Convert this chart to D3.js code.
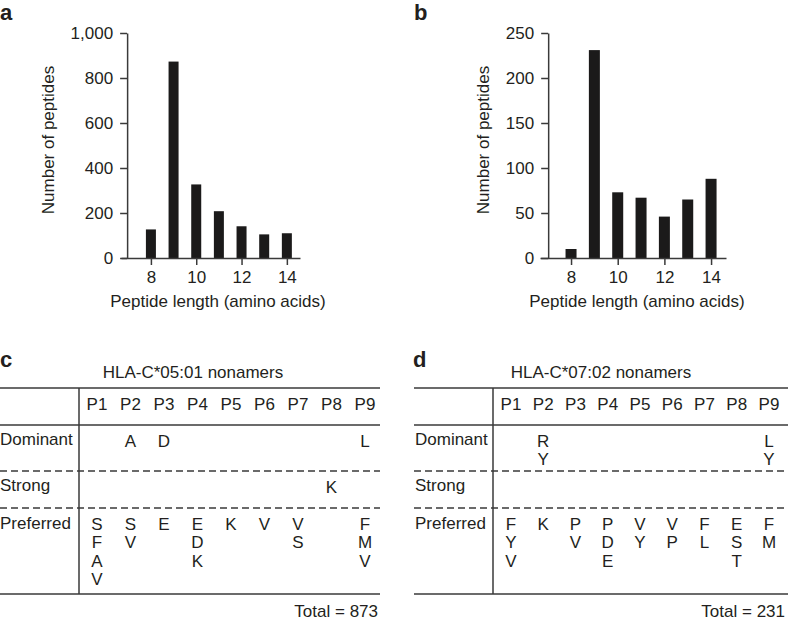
<!DOCTYPE html>
<html>
<head>
<meta charset="utf-8">
<script src="https://cdn.jsdelivr.net/npm/d3@7"></script>
<style>
  html, body { margin: 0; padding: 0; background: #fff; }
  svg text { font-family: "Liberation Sans", Arial, Helvetica, sans-serif; fill: #231f20; }
</style>
</head>
<body>
<svg id="chart" width="788" height="620"></svg>
<script>
// ---- Data ----
const peptideLengths = [8, 9, 10, 11, 12, 13, 14];
const countsA = [127, 873, 327, 208, 141, 105, 110];
const countsB = [10, 231, 73, 67, 46, 65, 88];
const xTickValues = [8, 10, 12, 14];
const yTicksA = [0, 200, 400, 600, 800, 1000];
const yTicksB = [0, 50, 100, 150, 200, 250];

const positions = ["P1", "P2", "P3", "P4", "P5", "P6", "P7", "P8", "P9"];
const rowLabels = ["Dominant", "Strong", "Preferred"];

const dominantC = [[], ["A"], ["D"], [], [], [], [], [], ["L"]];
const strongC = [[], [], [], [], [], [], [], ["K"], []];
const preferredC = [["S", "F", "A", "V"], ["S", "V"], ["E"], ["E", "D", "K"], ["K"], ["V"], ["V", "S"], [], ["F", "M", "V"]];

const dominantD = [[], ["R", "Y"], [], [], [], [], [], [], ["L", "Y"]];
const strongD = [[], [], [], [], [], [], [], [], []];
const preferredD = [["F", "Y", "V"], ["K"], ["P", "V"], ["P", "D", "E"], ["V", "Y"], ["V", "P"], ["F", "L"], ["E", "S", "T"], ["F", "M"]];

const svg = d3.select("#chart");
const INK = "#231f20";
const LINE = "#3a3a3a";
const FS = 17;

// ---- Bar chart helper ----
function barChart(cfg) {
  const g = svg.append("g");
  const x = d3.scaleLinear().domain(cfg.xDomain).range(cfg.xRange);
  const y = d3.scaleLinear().domain(cfg.yDomain).range([258, 33]);
  const axisX = x(cfg.yAxisAt);

  // bars
  g.selectAll("rect.bar").data(cfg.values).enter().append("rect")
    .attr("x", (d, i) => x(peptideLengths[i]) - cfg.barW / 2)
    .attr("width", cfg.barW)
    .attr("y", d => y(d))
    .attr("height", d => y(0) - y(d))
    .attr("fill", "#1b1a1a");

  // x axis
  const xa = g.append("g").attr("transform", `translate(0,${y(0)})`)
    .call(d3.axisBottom(x).tickValues(xTickValues).tickSize(7).tickPadding(6).tickSizeOuter(0));
  // y axis
  const ya = g.append("g").attr("transform", `translate(${axisX},0)`)
    .call(d3.axisLeft(y).tickValues(cfg.yTicks).tickSize(7).tickPadding(7).tickSizeOuter(0)
      .tickFormat(d3.format(",")));
  [xa, ya].forEach(a => {
    a.selectAll("path.domain").attr("stroke", LINE).attr("stroke-width", 1.5);
    a.selectAll(".tick line").attr("stroke", LINE).attr("stroke-width", 1.5);
    a.selectAll(".tick text").attr("font-size", FS).attr("fill", INK)
      .attr("font-family", "Liberation Sans, Arial, sans-serif");
  });

  // axis titles
  g.append("text")
    .attr("transform", `translate(${cfg.yTitleX},140) rotate(-90)`)
    .attr("text-anchor", "middle").attr("font-size", FS)
    .text("Number of peptides");
  g.append("text")
    .attr("x", cfg.xTitleX).attr("y", 307)
    .attr("text-anchor", "middle").attr("font-size", FS)
    .text("Peptide length (amino acids)");
  // panel letter
  g.append("text").attr("x", cfg.letterX).attr("y", 20)
    .attr("font-size", 22).attr("font-weight", "bold").text(cfg.letter);
}

barChart({
  values: countsA, yDomain: [0, 1000], yTicks: yTicksA,
  xDomain: [6.68, 14.58], xRange: [121, 300], yAxisAt: 6.95, barW: 10,
  yTitleX: 54, xTitleX: 218, letter: "a", letterX: 0
});
barChart({
  values: countsB, yDomain: [0, 250], yTicks: yTicksB,
  xDomain: [6.67, 14.64], xRange: [540, 726], yAxisAt: 7.02, barW: 11,
  yTitleX: 489, xTitleX: 637, letter: "b", letterX: 414
});

// ---- Table helper ----
function motifTable(cfg) {
  const g = svg.append("g");
  const px = d3.scalePoint().domain(positions).range(cfg.colRange);
  const yTop = 388, yHead = 425, yDash1 = 471, yDash2 = 508, yBot = 594;

  g.append("text").attr("x", cfg.letterX).attr("y", 367)
    .attr("font-size", 22).attr("font-weight", "bold").text(cfg.letter);
  g.append("text").attr("x", cfg.titleX).attr("y", 378)
    .attr("text-anchor", "middle").attr("font-size", FS).text(cfg.title);

  const solid = [[cfg.x0, yTop, cfg.x1, yTop], [cfg.x0, yHead, cfg.x1, yHead], [cfg.x0, yBot, cfg.x1, yBot],
                 [cfg.vx, yTop, cfg.vx, yBot]];
  g.selectAll("line.solid").data(solid).enter().append("line")
    .attr("x1", d => d[0]).attr("y1", d => d[1]).attr("x2", d => d[2]).attr("y2", d => d[3])
    .attr("stroke", LINE).attr("stroke-width", 1.5);
  g.selectAll("line.dash").data([yDash1, yDash2]).enter().append("line")
    .attr("x1", cfg.x0).attr("x2", cfg.x1).attr("y1", d => d).attr("y2", d => d)
    .attr("stroke", LINE).attr("stroke-width", 1.5).attr("stroke-dasharray", "7,4");

  // header
  g.selectAll("text.head").data(positions).enter().append("text")
    .attr("x", d => px(d)).attr("y", 410).attr("text-anchor", "middle")
    .attr("font-size", FS).text(d => d);

  // row labels
  const rowY = [445, 491, 529];
  g.selectAll("text.row").data(rowLabels).enter().append("text")
    .attr("x", cfg.labelX).attr("y", (d, i) => rowY[i]).attr("font-size", FS).text(d => d);

  // cells
  const valueY = [447, 493, 530];
  const step = 18.3;
  [cfg.dominant, cfg.strong, cfg.preferred].forEach((rows, ri) => {
    rows.forEach((letters, ci) => {
      letters.forEach((L, li) => {
        g.append("text")
          .attr("x", px(positions[ci])).attr("y", valueY[ri] + li * step)
          .attr("text-anchor", "middle").attr("font-size", FS).text(L);
      });
    });
  });

  g.append("text").attr("x", cfg.totalX).attr("y", 617)
    .attr("text-anchor", "end").attr("font-size", FS).text(cfg.total);
}

motifTable({
  letter: "c", letterX: 0, title: "HLA-C*05:01 nonamers", titleX: 193,
  x0: 0, x1: 380, vx: 79, labelX: 0, colRange: [97, 365],
  dominant: dominantC, strong: strongC, preferred: preferredC,
  total: "Total = 873", totalX: 378
});
motifTable({
  letter: "d", letterX: 413, title: "HLA-C*07:02 nonamers", titleX: 601,
  x0: 414, x1: 788, vx: 493, labelX: 415, colRange: [511, 769],
  dominant: dominantD, strong: strongD, preferred: preferredD,
  total: "Total = 231", totalX: 785
});
</script>
</body>
</html>
